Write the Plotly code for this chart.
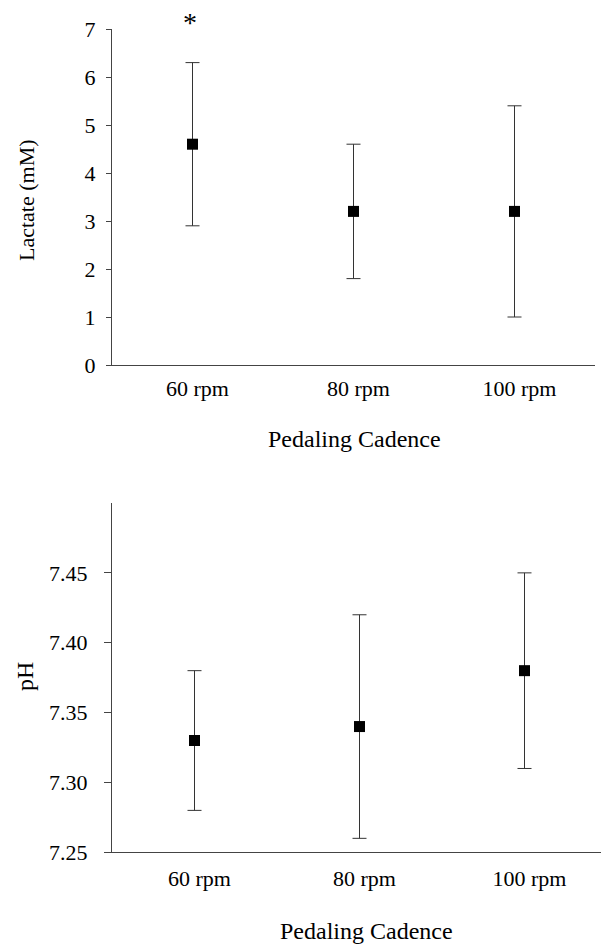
import plotly.graph_objects as go

categories = ["60 rpm", "80 rpm", "100 rpm"]
lactate_mean = [4.6, 3.2, 3.2]
lactate_upper = [6.3, 4.6, 5.4]
lactate_lower = [2.9, 1.8, 1.0]
ph_mean = [7.33, 7.34, 7.38]
ph_upper = [7.38, 7.42, 7.45]
ph_lower = [7.28, 7.26, 7.31]
lactate_ticks = [0, 1, 2, 3, 4, 5, 6, 7]
ph_ticks = [7.25, 7.30, 7.35, 7.40, 7.45]
ph_ticklabels = ["7.25", "7.30", "7.35", "7.40", "7.45"]

FONT = "Liberation Serif, Times New Roman, serif"
OFF = 8  # page body margin
W, H = 609 - OFF, 945 - OFF


def xf(px):
    return (px - OFF) / W


def yf(py):
    return 1 - (py - OFF) / H


fig = go.Figure()

fig.add_trace(go.Scatter(
    x=categories, y=lactate_mean, mode="markers",
    marker=dict(symbol="square", size=11, color="black"),
    error_y=dict(type="data", symmetric=False,
                 array=[u - m for u, m in zip(lactate_upper, lactate_mean)],
                 arrayminus=[m - l for m, l in zip(lactate_mean, lactate_lower)],
                 color="#333", thickness=1, width=7),
    xaxis="x", yaxis="y", showlegend=False, cliponaxis=False))

fig.add_trace(go.Scatter(
    x=categories, y=ph_mean, mode="markers",
    marker=dict(symbol="square", size=11, color="black"),
    error_y=dict(type="data", symmetric=False,
                 array=[u - m for u, m in zip(ph_upper, ph_mean)],
                 arrayminus=[m - l for m, l in zip(ph_mean, ph_lower)],
                 color="#333", thickness=1, width=7),
    xaxis="x2", yaxis="y2", showlegend=False, cliponaxis=False))

axis_common = dict(showgrid=False, zeroline=False, showline=True,
                   linecolor="#444", linewidth=1, automargin=False,
                   tickfont=dict(family=FONT, size=22, color="black"))

fig.update_layout(
    template="none",
    width=W, height=H,
    margin=dict(l=0, r=0, t=0, b=0, pad=0, autoexpand=False),
    paper_bgcolor="white", plot_bgcolor="white",
    xaxis=dict(domain=[xf(112), xf(595)], anchor="y", type="category",
               range=[-0.5, 2.5], ticks="", ticklabelstandoff=4,
               ticklabelshift=5, **axis_common),
    yaxis=dict(domain=[yf(365), yf(29)], anchor="x", range=[0, 7],
               tickvals=lactate_ticks, ticks="outside", ticklen=5,
               tickcolor="#444", ticklabelstandoff=6, **axis_common),
    xaxis2=dict(domain=[xf(112), xf(607)], anchor="y2", type="category",
                range=[-0.5, 2.5], ticks="", ticklabelstandoff=6,
                ticklabelshift=5, **axis_common),
    yaxis2=dict(domain=[yf(852.3), yf(503)], anchor="x2", range=[7.25, 7.50],
                tickvals=ph_ticks, ticktext=ph_ticklabels, ticks="outside", ticklen=7,
                tickcolor="#444", ticklabelstandoff=12, **axis_common),
)

title_font = dict(family=FONT, size=24, color="black")
fig.add_annotation(text="Lactate (mM)", x=xf(27), y=yf(200), xref="paper", yref="paper",
                   textangle=-90, showarrow=False, font=dict(family=FONT, size=22, color="black"),
                   xanchor="center", yanchor="middle")
fig.add_annotation(text="Pedaling Cadence", x=xf(354), y=yf(439), xref="paper", yref="paper",
                   showarrow=False, font=title_font, xanchor="center", yanchor="middle")
fig.add_annotation(text="pH", x=xf(25), y=yf(677), xref="paper", yref="paper",
                   textangle=-90, showarrow=False, font=dict(family=FONT, size=24, color="black"),
                   xanchor="center", yanchor="middle")
fig.add_annotation(text="Pedaling Cadence", x=xf(366), y=yf(931), xref="paper", yref="paper",
                   showarrow=False, font=title_font, xanchor="center", yanchor="middle")
fig.add_annotation(text="*", x=xf(190), y=yf(23), xref="paper", yref="paper",
                   showarrow=False, font=dict(family=FONT, size=28, color="black"),
                   xanchor="center", yanchor="middle")

fig.write_html("out.html")
